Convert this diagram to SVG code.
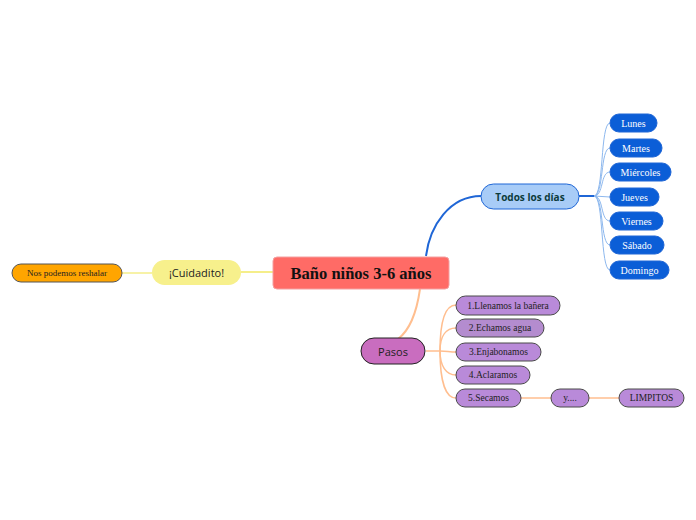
<svg xmlns="http://www.w3.org/2000/svg" width="696" height="520" viewBox="0 0 696 520">
<style>
.serif{font-family:"Liberation Serif","DejaVu Serif",serif}
.sans{font-family:"Open Sans","Noto Sans","Liberation Sans",sans-serif}
.day rect{fill:#0B5ED7;stroke:#1F66D6;stroke-width:1}
.day text{fill:#ffffff;font-size:10px}
.step rect{fill:#B98AD9;stroke:#4a4a4a;stroke-width:1}
.step text{fill:#222;font-size:9.5px}
.blue{fill:none;stroke:#8DB8EE;stroke-width:1}
.peach{fill:none;stroke:#FFBE8F;stroke-width:1.5}
text{text-anchor:middle;dominant-baseline:central}
</style>
<rect width="696" height="520" fill="#ffffff"/>
<g id="connectors">
<path d="M426,256 C430,225 450,196 481,196" fill="none" stroke="#1F66D6" stroke-width="2"/>
<path d="M579,196 L594,196" fill="none" stroke="#1F66D6" stroke-width="2"/>
<path class="blue" d="M594,196 C604,196 600,123 610,123"/>
<path class="blue" d="M594,196 C604,196 600,148 610,148"/>
<path class="blue" d="M594,196 C604,196 600,172 610,172"/>
<path class="blue" d="M594,196 L610,197"/>
<path class="blue" d="M594,196 C604,196 600,221 610,221"/>
<path class="blue" d="M594,196 C604,196 600,245 610,245"/>
<path class="blue" d="M594,196 C604,196 600,270 610,270"/>
<path d="M420,289 C417,310 410,330 398,339" fill="none" stroke="#FFBE8F" stroke-width="2"/>
<path class="peach" d="M426,351 L440,351"/>
<path class="peach" d="M440,351 C440,320 446,305 456,305"/>
<path class="peach" d="M440,351 C440,336 446,328 456,328"/>
<path class="peach" d="M440,351 C446,351 450,352 456,352"/>
<path class="peach" d="M440,351 C440,366 446,375 456,375"/>
<path class="peach" d="M440,351 C440,382 446,398 456,398"/>
<path class="peach" d="M521,398 L551,398"/>
<path class="peach" d="M589,398 L619,398"/>
<path d="M241,272 L273,272" fill="none" stroke="#F5EE8A" stroke-width="2"/>
<path d="M122,273 L152,273" fill="none" stroke="#F5EE8A" stroke-width="1.5"/>
</g>
<g id="central">
<rect x="273" y="257" width="176" height="32" rx="4" fill="#FF6B66" stroke="#F4A0A0" stroke-width="1"/>
<text class="serif" x="361" y="273" font-size="16.5" font-weight="bold" fill="#111">Baño niños 3-6 años</text>
</g>
<g id="cuidadito">
<rect x="152" y="260" width="89" height="25" rx="12.5" fill="#F7F08C"/>
<text class="sans" x="196.5" y="272.5" font-size="11" fill="#222">¡Cuidadito!</text>
</g>
<g id="resbalar">
<rect x="12" y="264" width="110" height="18" rx="9" fill="#FFA500" stroke="#555" stroke-width="1"/>
<text class="serif" x="67" y="273" font-size="9" fill="#222">Nos podemos reshalar</text>
</g>
<g id="todos">
<rect x="481" y="184" width="98" height="25" rx="12.5" fill="#A8CCF7" stroke="#1F66D6" stroke-width="1"/>
<text class="sans" x="530" y="196.5" font-size="10" font-weight="bold" fill="#0D3B3B">Todos los días</text>
</g>
<g id="lunes" class="day"><rect x="610" y="114" width="47" height="18" rx="9"/><text class="serif" x="633.5" y="123">Lunes</text></g>
<g id="martes" class="day"><rect x="610" y="139" width="52" height="18" rx="9"/><text class="serif" x="636" y="148">Martes</text></g>
<g id="miercoles" class="day"><rect x="610" y="163" width="61" height="18" rx="9"/><text class="serif" x="640.5" y="172">Miércoles</text></g>
<g id="jueves" class="day"><rect x="610" y="188" width="49" height="18" rx="9"/><text class="serif" x="634.5" y="197">Jueves</text></g>
<g id="viernes" class="day"><rect x="610" y="212" width="53" height="18" rx="9"/><text class="serif" x="636.5" y="221">Viernes</text></g>
<g id="sabado" class="day"><rect x="610" y="236" width="54" height="18" rx="9"/><text class="serif" x="637" y="245">Sábado</text></g>
<g id="domingo" class="day"><rect x="610" y="261" width="59" height="18" rx="9"/><text class="serif" x="639.5" y="270">Domingo</text></g>
<g id="pasos">
<rect x="361" y="338" width="64" height="26" rx="13" fill="#C96DBF" stroke="#222" stroke-width="1"/>
<text class="sans" x="393" y="351" font-size="11" fill="#222">Pasos</text>
</g>
<g id="paso1" class="step"><rect x="456" y="296" width="104" height="19" rx="9.5"/><text class="serif" x="508" y="305.5">1.Llenamos la bañera</text></g>
<g id="paso2" class="step"><rect x="456" y="319" width="88" height="18" rx="9" style="fill:#B48CCF"/><text class="serif" x="500" y="328">2.Echamos agua</text></g>
<g id="paso3" class="step"><rect x="456" y="343" width="85" height="18" rx="9"/><text class="serif" x="498.5" y="352">3.Enjabonamos</text></g>
<g id="paso4" class="step"><rect x="456" y="366" width="74" height="18" rx="9"/><text class="serif" x="493" y="375">4.Aclaramos</text></g>
<g id="paso5" class="step"><rect x="456" y="389" width="65" height="18" rx="9"/><text class="serif" x="488.5" y="398">5.Secamos</text></g>
<g id="y" class="step"><rect x="551" y="389" width="38" height="18" rx="9"/><text class="serif" x="570" y="398">y....</text></g>
<g id="limpitos" class="step"><rect x="619" y="389" width="65" height="18" rx="9"/><text class="serif" x="651.5" y="398">LIMPITOS</text></g>
</svg>
